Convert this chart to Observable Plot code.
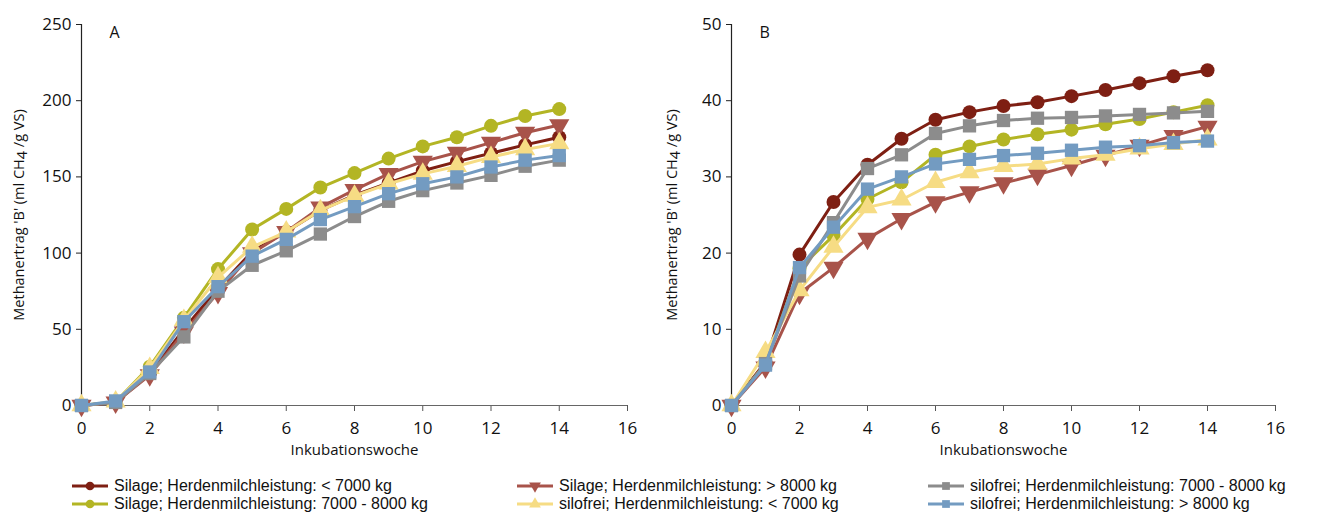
<!DOCTYPE html>
<html><head><meta charset="utf-8">
<script src="https://cdn.jsdelivr.net/npm/d3@7"></script>
<script src="https://cdn.jsdelivr.net/npm/@observablehq/plot@0.6"></script>
<style>
body{margin:0;background:#fff;font-family:"Open Sans",sans-serif;}
#wrap{position:relative;width:1324px;height:516px;overflow:hidden;}
#a{position:absolute;left:0;top:0}
#b{position:absolute;left:660px;top:0}
.item{position:absolute;display:flex;align-items:center;font-family:"Liberation Sans",Arial,sans-serif;font-size:16px;line-height:18px;height:18px;white-space:nowrap;color:#111}
.item span{line-height:18px;display:block;height:18px}
.item svg{margin-right:6px}
</style></head><body><div id="wrap"><div id="a"></div><div id="b"></div><div id="legend"></div></div>
<script>
const weeks = [0,1,2,3,4,5,6,7,8,9,10,11,12,13,14];
const seriesNames = [
  "Silage; Herdenmilchleistung: < 7000 kg",
  "Silage; Herdenmilchleistung: 7000 - 8000 kg",
  "Silage; Herdenmilchleistung: > 8000 kg",
  "silofrei; Herdenmilchleistung: < 7000 kg",
  "silofrei; Herdenmilchleistung: 7000 - 8000 kg",
  "silofrei; Herdenmilchleistung: > 8000 kg"
];
const seriesColors = ["#7e1f13","#b3b524","#a8534a","#f6dc84","#8c8c8c","#739bc1"];
const seriesSymbols = ["circle","circle","triangle","triangle","square","square"];
const seriesRotate = [0,0,180,0,0,0];
const seriesR = [7,7,7.5,7.5,7.5,7.5];

// Panel A values (ml CH4 / g VS)
const A_silage_lt7000       = [0, 2, 21, 50, 77, 101, 114, 128, 138, 146, 154, 160, 165.5, 171, 176];
const A_silage_7000_8000    = [0, 2.5, 25.5, 57.5, 89.5, 115.5, 129, 143, 152.5, 162, 170, 176, 183.5, 190, 194.5];
const A_silage_gt8000       = [0, 2, 20, 48, 74, 100, 114, 130, 141.5, 152, 160, 166, 172.5, 179, 184];
const A_silofrei_lt7000     = [0, 2.5, 24.5, 56, 84, 104, 114, 128, 137.5, 145.5, 152, 157, 163, 168, 172];
const A_silofrei_7000_8000  = [0, 2, 21, 45, 75, 92, 101.5, 112.5, 124, 134, 141, 146, 151, 157, 161];
const A_silofrei_gt8000     = [0, 3, 22, 55, 78, 98, 109, 122, 130.5, 139, 145.5, 150, 156.5, 161, 164];

// Panel B values
const B_silage_lt7000       = [0, 5.7, 19.8, 26.7, 31.6, 35, 37.5, 38.5, 39.3, 39.8, 40.6, 41.4, 42.3, 43.2, 44];
const B_silage_7000_8000    = [0, 5.5, 18, 22.3, 27.1, 29.3, 32.9, 34, 34.9, 35.6, 36.2, 36.9, 37.6, 38.5, 39.4];
const B_silage_gt8000       = [0, 5, 14.7, 18.1, 21.9, 24.5, 26.7, 28, 29.2, 30.3, 31.5, 32.8, 34.1, 35.4, 36.6];
const B_silofrei_lt7000     = [0, 7, 15.1, 20.8, 26, 27, 29.3, 30.6, 31.4, 31.7, 32.4, 32.9, 33.7, 34.3, 34.9];
const B_silofrei_7000_8000  = [0, 5.5, 17, 24, 31.1, 32.9, 35.7, 36.7, 37.4, 37.7, 37.8, 38, 38.2, 38.4, 38.6];
const B_silofrei_gt8000     = [0, 5.3, 18.1, 23.4, 28.4, 30, 31.7, 32.3, 32.8, 33.1, 33.5, 33.9, 34.1, 34.5, 34.7];

const xTicks = [0,2,4,6,8,10,12,14,16];
const yTicksA = [0,50,100,150,200,250];
const yTicksB = [0,10,20,30,40,50];
const yLabel = "Methanertrag 'B' (ml CH4 /g VS)";
const xLabel = "Inkubationswoche";

function panel(valuesList, yTicks, letter, width, ml, mr, yLabelOffset) {
  const marks = [];
  valuesList.forEach((vals, i) => {
    const rows = weeks.map((w, j) => ({week: w, value: vals[j]}));
    marks.push(Plot.line(rows, {x: "week", y: "value", stroke: seriesColors[i], strokeWidth: 3}));
    marks.push(Plot.dot(rows, {x: "week", y: "value", symbol: seriesSymbols[i], r: seriesR[i],
      fill: seriesColors[i], stroke: "none", rotate: seriesRotate[i]}));
  });
  const chart = Plot.plot({
    width, height: 460,
    marginLeft: ml, marginRight: mr, marginTop: 24, marginBottom: 55,
    style: {fontFamily: "'Open Sans', sans-serif", background: "#fff", color: "#111", overflow: "visible"},
    x: {domain: [0, 16]},
    y: {domain: [yTicks[0], yTicks[yTicks.length - 1]]},
    marks: [
      Plot.axisX({ticks: xTicks, tickSize: 6, tickPadding: 10, fontSize: 17, label: null, stroke: "#555"}),
      Plot.axisX({ticks: [], fontSize: 15, label: xLabel,
        labelAnchor: "center", labelArrow: "none", labelOffset: 49}),
      Plot.axisY({ticks: yTicks, tickSize: 5, tickPadding: 5, fontSize: 17, label: null, stroke: "#222"}),
      Plot.axisY({ticks: [], fontSize: 14.5, label: yLabel,
        labelAnchor: "center", labelArrow: "none", labelOffset: yLabelOffset}),
      Plot.ruleY([yTicks[0]], {stroke: "#666", strokeWidth: 1.2}),
      Plot.ruleX([0], {stroke: "#222", strokeWidth: 1.2}),
      ...marks,
      Plot.text([letter], {frameAnchor: "top-left", dx: 28, dy: 2, fontSize: 16, textAnchor: "start", fill: "#111"})
    ]
  });
  // subscript 4 in CH4
  chart.querySelectorAll("text").forEach(t => {
    if (t.textContent === yLabel) {
      const parts = yLabel.split("CH4");
      t.textContent = "";
      const ns = "http://www.w3.org/2000/svg";
      const s1 = document.createElementNS(ns, "tspan"); s1.textContent = parts[0] + "CH"; t.appendChild(s1);
      const s2 = document.createElementNS(ns, "tspan"); s2.textContent = "4"; s2.setAttribute("dy", "3"); t.appendChild(s2);
      const s3 = document.createElementNS(ns, "tspan"); s3.textContent = " " + parts[1].trimStart(); s3.setAttribute("dy", "-3"); t.appendChild(s3);
    }
  });
  return chart;
}

document.getElementById("a").appendChild(panel(
  [A_silage_lt7000, A_silage_7000_8000, A_silage_gt8000, A_silofrei_lt7000, A_silofrei_7000_8000, A_silofrei_gt8000],
  yTicksA, "A", 660, 81, 33, 68));
document.getElementById("b").appendChild(panel(
  [B_silage_lt7000, B_silage_7000_8000, B_silage_gt8000, B_silofrei_lt7000, B_silofrei_7000_8000, B_silofrei_gt8000],
  yTicksB, "B", 664, 71, 49, 65));

// legend: row-major order, 3 columns
const legendOrder = [0, 2, 4, 1, 3, 5];
const colLeft = [72, 517, 928];
const rowTop = [477, 495];
const legend = document.getElementById("legend");
legendOrder.forEach((si, k) => {
  const col = k % 3, row = Math.floor(k / 3);
  const div = document.createElement("div");
  div.className = "item";
  div.style.left = colLeft[col] + "px";
  div.style.top = rowTop[row] + "px";
  const sw = d3.create("svg").attr("width", 36).attr("height", 16);
  sw.append("line").attr("x1", 0).attr("x2", 36).attr("y1", 8).attr("y2", 8)
    .attr("stroke", seriesColors[si]).attr("stroke-width", 3);
  const symMap = {circle: d3.symbolCircle, square: d3.symbolSquare, triangle: d3.symbolTriangle};
  sw.append("path").attr("d", d3.symbol(symMap[seriesSymbols[si]], 60)())
    .attr("transform", `translate(18,8) rotate(${seriesRotate[si]})`)
    .attr("fill", seriesColors[si]);
  div.appendChild(sw.node());
  const span = document.createElement("span");
  span.textContent = seriesNames[si];
  div.appendChild(span);
  legend.appendChild(div);
});
</script></body></html>
